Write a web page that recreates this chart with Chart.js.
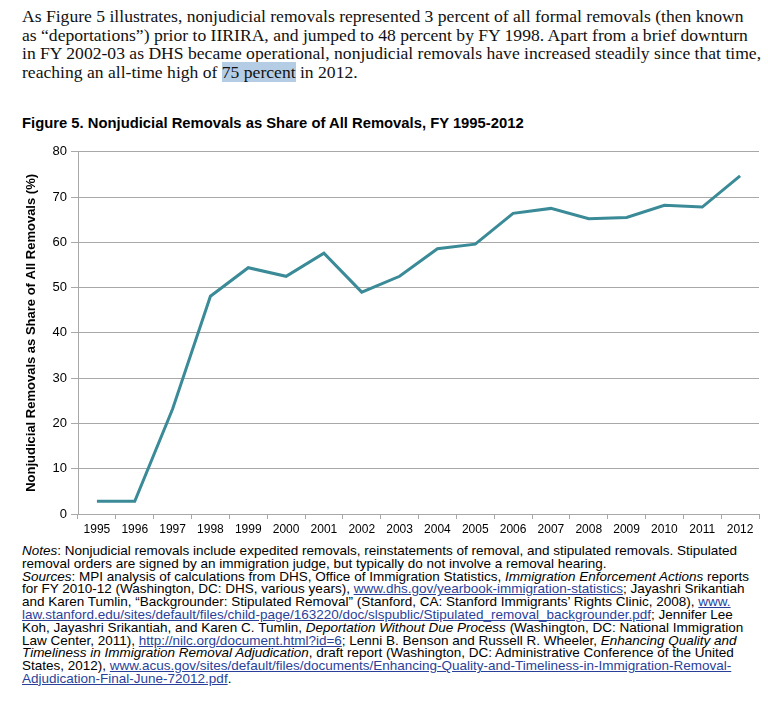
<!DOCTYPE html>
<html>
<head>
<meta charset="utf-8">
<script src="https://cdn.jsdelivr.net/npm/chart.js@4/dist/chart.umd.min.js"></script>
<style>
  body { margin: 0; background: #fff; width: 768px; height: 707px; position: relative; overflow: hidden; }
  .intro { position: absolute; left: 22px; top: 7px; font-family: "Liberation Serif", serif; font-size: 17.6px; line-height: 18.5px; color: #111; white-space: nowrap; }
  .intro .hl { background: #b4cde4; }
  .title { position: absolute; left: 22px; top: 115px; font-family: "Liberation Sans", Arial, sans-serif; font-weight: bold; font-size: 14.8px; color: #000; white-space: nowrap; }
  #wrap { position: absolute; left: 0; top: 140px; width: 768px; height: 400px; }
  .notes { position: absolute; left: 22px; top: 545px; font-family: "Liberation Sans", Arial, sans-serif; font-size: 13.5px; line-height: 12.8px; color: #000; white-space: nowrap; }
  .notes a { color: #2a3f9a; text-decoration: underline; }
</style>
</head>
<body>
<div class="intro">
As Figure 5 illustrates, nonjudicial removals represented 3 percent of all formal removals (then known<br>
as “deportations”) prior to IIRIRA, and jumped to 48 percent by FY 1998. Apart from a brief downturn<br>
in FY 2002-03 as DHS became operational, nonjudicial removals have increased steadily since that time,<br>
reaching an all-time high of <span class="hl">75 percent</span> in 2012.
</div>
<div class="title">Figure 5. Nonjudicial Removals as Share of All Removals, FY 1995-2012</div>
<div id="wrap"><canvas id="graph"></canvas></div>
<div class="notes">
<i>Notes</i>: Nonjudicial removals include expedited removals, reinstatements of removal, and stipulated removals. Stipulated<br>
removal orders are signed by an immigration judge, but typically do not involve a removal hearing.<br>
<i>Sources</i>: MPI analysis of calculations from DHS, Office of Immigration Statistics, <i>Immigration Enforcement Actions</i> reports<br>
for FY 2010-12 (Washington, DC: DHS, various years), <a>www.dhs.gov/yearbook-immigration-statistics</a>; Jayashri Srikantiah<br>
and Karen Tumlin, “Backgrounder: Stipulated Removal” (Stanford, CA: Stanford Immigrants’ Rights Clinic, 2008), <a>www.</a><br>
<a>law.stanford.edu/sites/default/files/child-page/163220/doc/slspublic/Stipulated_removal_backgrounder.pdf</a>; Jennifer Lee<br>
Koh, Jayashri Srikantiah, and Karen C. Tumlin, <i>Deportation Without Due Process</i> (Washington, DC: National Immigration<br>
Law Center, 2011), <a>http://nilc.org/document.html?id=6</a>; Lenni B. Benson and Russell R. Wheeler, <i>Enhancing Quality and</i><br>
<i>Timeliness in Immigration Removal Adjudication</i>, draft report (Washington, DC: Administrative Conference of the United<br>
States, 2012), <a>www.acus.gov/sites/default/files/documents/Enhancing-Quality-and-Timeliness-in-Immigration-Removal-</a><br>
<a>Adjudication-Final-June-72012.pdf</a>.
</div>
<script>
// データ
var years = ['1995','1996','1997','1998','1999','2000','2001','2002','2003','2004','2005','2006','2007','2008','2009','2010','2011','2012'];
var shareNonjudicial = [2.8, 2.8, 23.2, 48.1, 54.4, 52.5, 57.6, 49.0, 52.5, 58.6, 59.6, 66.4, 67.5, 65.2, 65.5, 68.2, 67.8, 74.7];
var yTicks = [0, 10, 20, 30, 40, 50, 60, 70, 80];

var gridColor = '#a8a8a8';
var ctx = document.getElementById('graph').getContext('2d');
var myChart = new Chart(ctx, {
    type: 'line',
    data: {
        labels: years,
        datasets: [{
            label: 'Nonjudicial Removals as Share of All Removals (%)',
            data: shareNonjudicial,
            borderColor: '#3a8b97',
            borderWidth: 3,
            pointRadius: 0,
            tension: 0,
            fill: false
        }]
    },
    options: {
        responsive: true,
        maintainAspectRatio: false,
        animation: false,
        layout: { padding: { top: 10, right: 9, left: 0, bottom: 0 } },
        plugins: {
            legend: { display: false },
            tooltip: { enabled: false },
            title: { display: false }
        },
        scales: {
            x: {
                offset: true,
                grid: { offset: true, drawOnChartArea: false, drawTicks: true, tickLength: 5, color: gridColor },
                border: { color: gridColor, width: 1 },
                ticks: { color: '#000', padding: 3, maxRotation: 0, autoSkip: false, font: { family: 'Liberation Sans', size: 12 } },
                afterFit: function(s) { s.height = 26; }
            },
            y: {
                min: 0,
                max: 80,
                afterBuildTicks: function(s) { s.ticks = yTicks.map(function(v) { return { value: v }; }); },
                grid: { color: gridColor, tickLength: 7, lineWidth: 1 },
                border: { color: gridColor, width: 1 },
                ticks: { color: '#000', padding: 4, font: { family: 'Liberation Sans', size: 13 } },
                title: {
                    display: true,
                    text: 'Nonjudicial Removals as Share of All Removals (%)',
                    color: '#000',
                    padding: { top: 24, bottom: 0 },
                    font: { family: 'Liberation Sans', size: 13, weight: 'bold' }
                },
                afterFit: function(s) { s.width = 78; }
            }
        }
    }
});
</script>
</body>
</html>
